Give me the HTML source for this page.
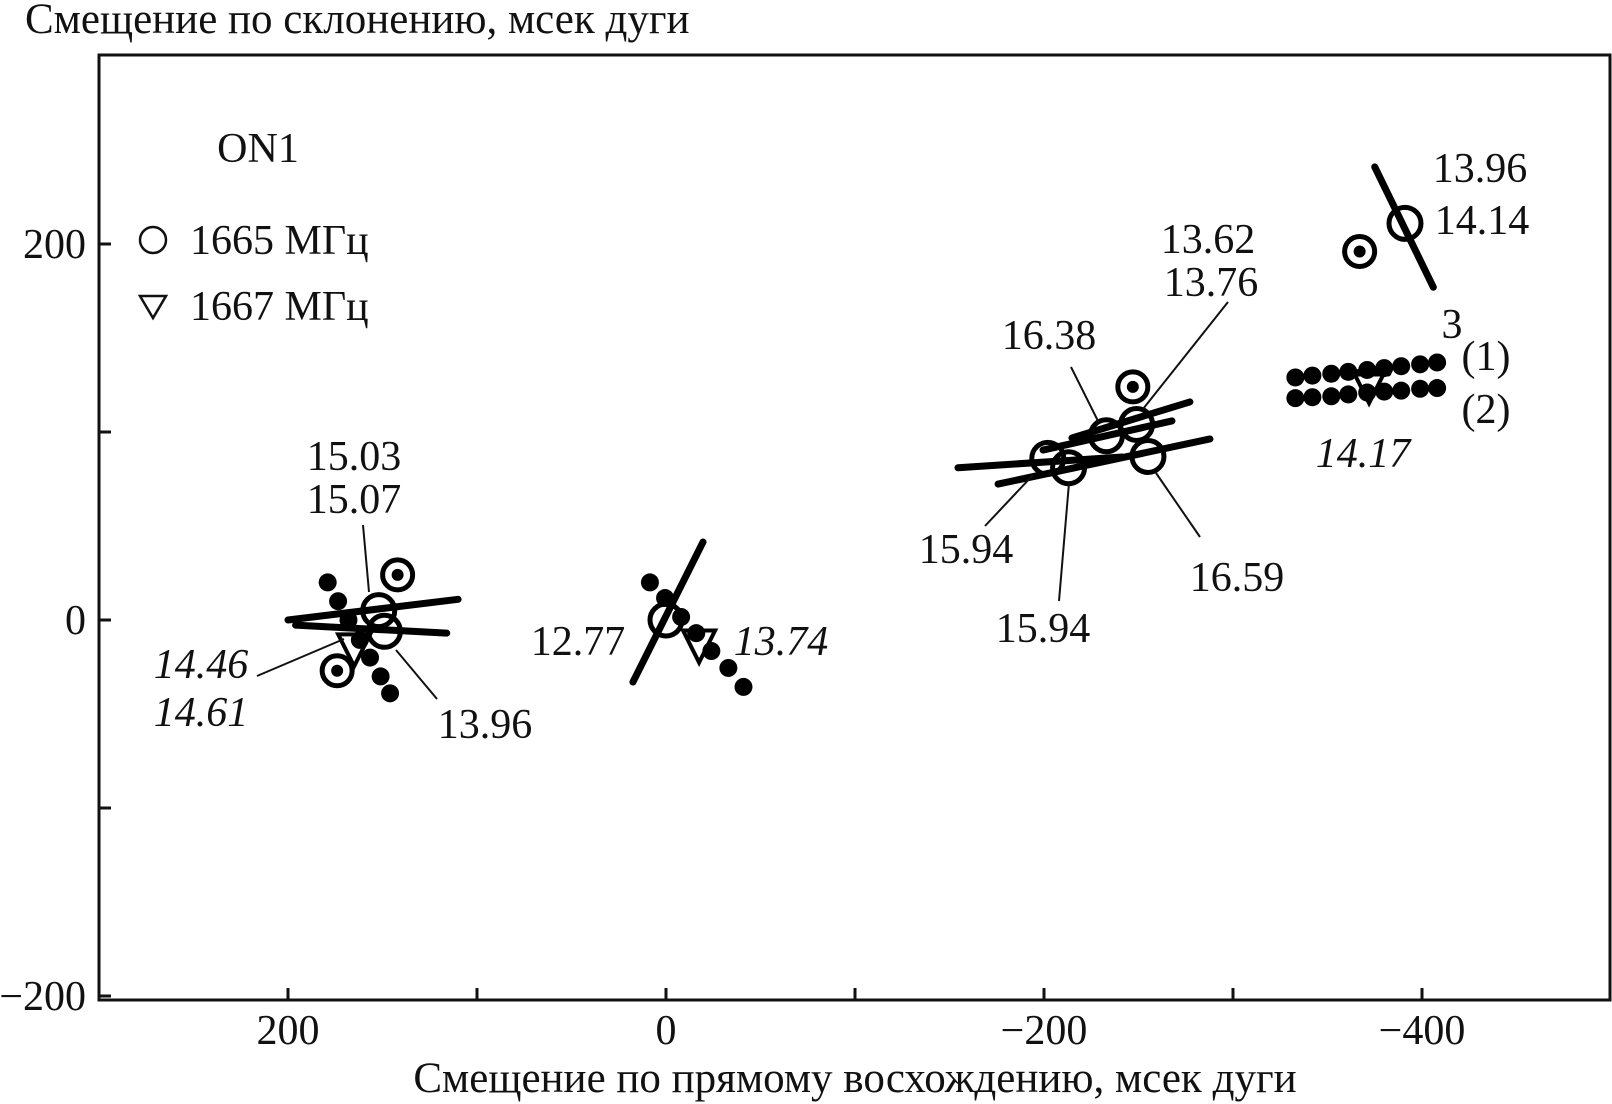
<!DOCTYPE html>
<html><head><meta charset="utf-8"><style>
html,body{margin:0;padding:0;background:#fff;}
svg{display:block;}
text{font-family:"Liberation Serif",serif;fill:#111;font-size:42px;}
</style></head><body>
<svg id="chart" width="1612" height="1104" viewBox="0 0 1612 1104" xmlns="http://www.w3.org/2000/svg">
<text x="25" y="33" style="font-size:43px">Смещение по склонению, мсек дуги</text>
<text x="855" y="1092" text-anchor="middle" style="font-size:43px">Смещение по прямому восхождению, мсек дуги</text>
<rect x="99" y="55" width="1511" height="945" fill="none" stroke="#111" stroke-width="3"/>
<g id="axes"></g>
<g id="lines"></g>
<g id="marks"></g>
<g id="annot">
<text x="258" y="162" text-anchor="middle">ON1</text>
<circle cx="153" cy="240" r="13" fill="none" stroke="#111" stroke-width="2.5"/>
<text x="190" y="254">1665 МГц</text>
<path d="M140,296 L166,296 L153,318 Z" fill="none" stroke="#111" stroke-width="2.5"/>
<text x="190" y="320">1667 МГц</text>
</g>
<g id="labels"></g>
</svg>
<script>
// axis mapping
function X(v){return 666-1.89*v;}
function Y(v){return 620-1.88*v;}
var xTicks=[200,100,0,-100,-200,-300,-400];
var xTickLabels=["200","","0","","\u2212200","","\u2212400"];
var yTicks=[200,100,0,-100,-200];
var yTickLabels=["200","","0","","\u2212200"];
// 1665 MHz open circles
var circlesX=[152,149,0,-202,-213,-233,-249,-255,-391];
var circlesY=[5,-6,0,86,81,98,104,87,211];
// circles with dot
var dotCirclesX=[142,174,-247,-367];
var dotCirclesY=[24,-27,124,196];
// 1667 MHz triangles
var triX=[165,-17.5,-372];
var triY=[-14,-12,126];
// filled dots
var dotsX=[179,173.5,168,162,156.6,151,146, 8.5,0.5,-8,-16,-24,-33,-41,
 -333,-342,-352,-361,-371,-380,-389,-399,-408,
 -333,-342,-352,-361,-371,-380,-389,-399,-408];
var dotsY=[20,10,0,-10.6,-20,-30,-39, 20,11.7,1.6,-7,-16.5,-25.5,-35.6,
 129,130,131,132,133,134,135,136,137,
 118,118.5,119,120,121,121.5,122,123,123.4];
// thick line segments
var segX1=[200,196,17.5,-154.5,-175.7,-214.8,-199.5,-375,-362];
var segY1=[0,-2.7,-33,81,72.3,96.8,90.4,241,131.4];
var segX2=[110,116,-19.6,-241.3,-287.8,-277.2,-267.7,-406,-382];
var segY2=[11,-7,41.5,86.7,96.3,116,105.9,177,131.4];

var NS="http://www.w3.org/2000/svg";
function mk(tag,attrs,parent){var e=document.createElementNS(NS,tag);for(var k in attrs)e.setAttribute(k,attrs[k]);parent.appendChild(e);return e;}
var axes=document.getElementById('axes');
xTicks.forEach(function(t,i){
 var l=mk('line',{x1:X(t),x2:X(t),y1:1000,y2:988,stroke:'#111','stroke-width':3},axes);
 
 
 if(xTickLabels[i]){var tx=mk('text',{x:X(t),y:1044,'text-anchor':'middle'},axes);tx.textContent=xTickLabels[i];
 
 }
});
yTicks.forEach(function(t,i){
 var l=mk('line',{x1:99,x2:111,y1:Y(t),y2:Y(t),stroke:'#111','stroke-width':3},axes);
 
 
 if(yTickLabels[i]){var tx=mk('text',{x:86,y:Y(t)+14,'text-anchor':'end'},axes);tx.textContent=yTickLabels[i];
 
 }
});
var lines=document.getElementById('lines');
segX1.forEach(function(_,i){
 var l=mk('line',{x1:X(segX1[i]),y1:Y(segY1[i]),x2:X(segX2[i]),y2:Y(segY2[i]),stroke:'#000','stroke-width':7,'stroke-linecap':'round'},lines);
 
 
});
var marks=document.getElementById('marks');
dotsX.forEach(function(_,i){
 var c=mk('circle',{cx:X(dotsX[i]),cy:Y(dotsY[i]),r:9,fill:'#000'},marks);
 
 
});
circlesX.forEach(function(_,i){
 var c=mk('circle',{cx:X(circlesX[i]),cy:Y(circlesY[i]),r:16,fill:'none',stroke:'#000','stroke-width':5},marks);
 
 
});
dotCirclesX.forEach(function(_,i){
 var c=mk('circle',{cx:X(dotCirclesX[i]),cy:Y(dotCirclesY[i]),r:15,fill:'#fff',stroke:'#000','stroke-width':5},marks);
 
 
 var d=mk('circle',{cx:X(dotCirclesX[i]),cy:Y(dotCirclesY[i]),r:6,fill:'#000'},marks);
 
 
});
triX.forEach(function(_,i){
 var cx=X(triX[i]),cy=Y(triY[i]);
 var p=mk('path',{d:'M'+(cx-16)+','+(cy-12)+' L'+(cx+16)+','+(cy-12)+' L'+cx+','+(cy+20)+' Z',fill:'none',stroke:'#000','stroke-width':4},marks);
 
 
});
var lab=document.getElementById('labels');
var leaders=[[363,525,369,592],[257,676,344,639],[437,699,396,650],[1071,367,1098,421],[1228,302,1143,409],[985,526,1033,475],[1059,601,1069,483],[1200,537,1156,473]];
leaders.forEach(function(s){
 var l=mk('line',{x1:s[0],y1:s[1],x2:s[2],y2:s[3],stroke:'#111','stroke-width':2},lab);
 
 
});
var texts=[["15.03",354,455,0],["15.07",354,498,0],["14.46",201,663,1],["14.61",201,711,1],["13.96",485,723,0],["12.77",578,640,0],["13.74",781,640,1],["16.38",1049,334,0],["13.62",1208,238,0],["13.76",1211,281,0],["15.94",966,548,0],["15.94",1043,627,0],["16.59",1237,576,0],["14.17",1363,452,1],["13.96",1480,167,0],["14.14",1482,219,0],["3",1452,323,0],["(1)",1486,355,0],["(2)",1486,408,0]];
texts.forEach(function(t){
 var e=mk('text',{x:t[1],y:t[2]+15,'text-anchor':'middle'},lab);
 if(t[3])e.setAttribute('font-style','italic');
 e.textContent=t[0];
 
 
});
</script>
</body></html>
